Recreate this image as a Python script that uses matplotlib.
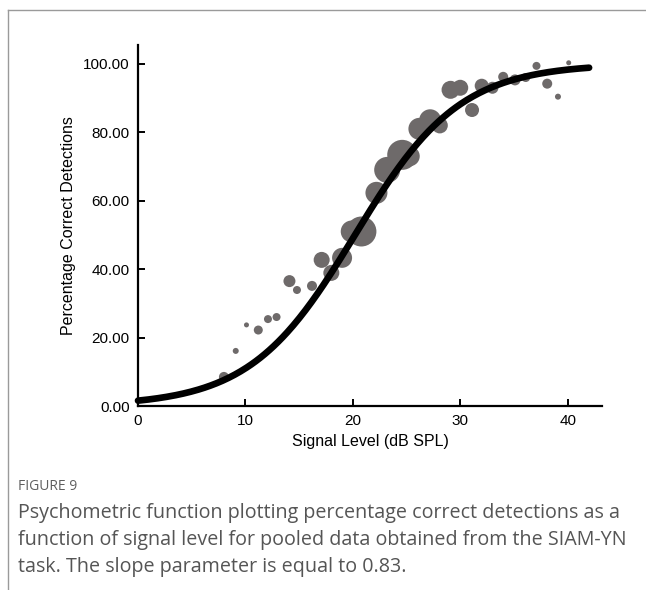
import numpy as np
import matplotlib
matplotlib.use("Agg")
import matplotlib.pyplot as plt
from matplotlib.lines import Line2D

# ---- data ----
signal_level = [8.0, 9.1, 10.1, 11.2, 12.1, 12.9, 14.1, 14.8, 16.2, 17.1, 18.0, 19.0,
                19.9, 20.8, 22.2, 23.2, 24.6, 25.3, 26.2, 27.2, 28.1, 29.1, 30.0,
                31.1, 32.0, 33.0, 34.0, 35.1, 36.1, 37.1, 38.1, 39.1, 40.1]
pct_correct = [8.5, 16.1, 23.7, 22.2, 25.4, 26.0, 36.5, 33.9, 35.1, 42.7, 38.9, 43.3,
               51.0, 51.0, 62.3, 69.0, 73.4, 73.0, 81.0, 83.5, 82.0, 92.4, 93.0,
               86.5, 93.6, 93.0, 96.2, 95.3, 96.0, 99.4, 94.2, 90.4, 100.3]
n_trials = [5, 3, 2.5, 4.5, 4, 4, 6, 4, 5, 8, 8, 10,
            11, 15, 11, 13, 15, 10, 11, 11, 8, 9, 8,
            7, 7, 6, 5, 5.5, 4.5, 4, 5, 3, 2.5]

# fitted psychometric (logistic) function parameters
threshold = 20.2
slope_k = 0.205
curve_range = (0.0, 42.0)

x_ticks = [0, 10, 20, 30, 40]
y_ticks = [0, 20, 40, 60, 80, 100]

W, H = 646, 590
fig = plt.figure(figsize=(W / 100, H / 100), dpi=100)
fig.patch.set_facecolor("white")

ax = fig.add_axes([138 / W, 1 - 406 / H, (602 - 138) / W, (406 - 45) / H])

sizes = [(1.44 * r) ** 2 for r in n_trials]
ax.scatter(signal_level, pct_correct, s=sizes, color="#6e6a6a", edgecolors="none",
           zorder=2, clip_on=False)

xc = np.linspace(curve_range[0], curve_range[1], 300)
yc = 100.0 / (1.0 + np.exp(-slope_k * (xc - threshold)))
ax.plot(xc, yc, color="black", lw=4.8, solid_capstyle="round", zorder=3, clip_on=False)

ax.set_xlim(0, 43.2)
ax.set_ylim(0, 105.5)
ax.set_xticks(x_ticks)
ax.set_yticks(y_ticks)
ax.set_yticklabels([f"{v:.2f}" for v in y_ticks])
for s in ["top", "right"]:
    ax.spines[s].set_visible(False)
for s in ["left", "bottom"]:
    ax.spines[s].set_linewidth(1.6)
    ax.spines[s].set_color("black")
ax.tick_params(direction="in", length=5, width=1.4, labelsize=11,
               colors="black", pad=6)
for lab in ax.get_xticklabels() + ax.get_yticklabels():
    lab.set_family("Liberation Sans")

ax.set_xlabel("Signal Level (dB SPL)", fontsize=11.5, family="Liberation Sans", labelpad=4)
ax.set_ylabel("Percentage Correct Detections", fontsize=11.5, family="Liberation Sans", labelpad=5)

# frame lines
fig.add_artist(Line2D([8 / W, 1], [1 - 10 / H, 1 - 10 / H], color="#9a9a9a", lw=1.0))
fig.add_artist(Line2D([8 / W, 8 / W], [1 - 10 / H, 0], color="#9a9a9a", lw=1.0))

# caption
fig.text(18 / W, 1 - 487 / H, "FIGURE 9", fontsize=10, color="#5f5f5f",
         family="Open Sans", va="center", ha="left")
cap = ["Psychometric function plotting percentage correct detections as a",
       "function of signal level for pooled data obtained from the SIAM-YN",
       "task. The slope parameter is equal to 0.83."]
for i, line in enumerate(cap):
    fig.text(18 / W, 1 - (513 + 27 * i) / H, line, fontsize=14.2, color="#555555",
             family="Open Sans", va="center", ha="left")

fig.savefig("out.png", dpi=100)
